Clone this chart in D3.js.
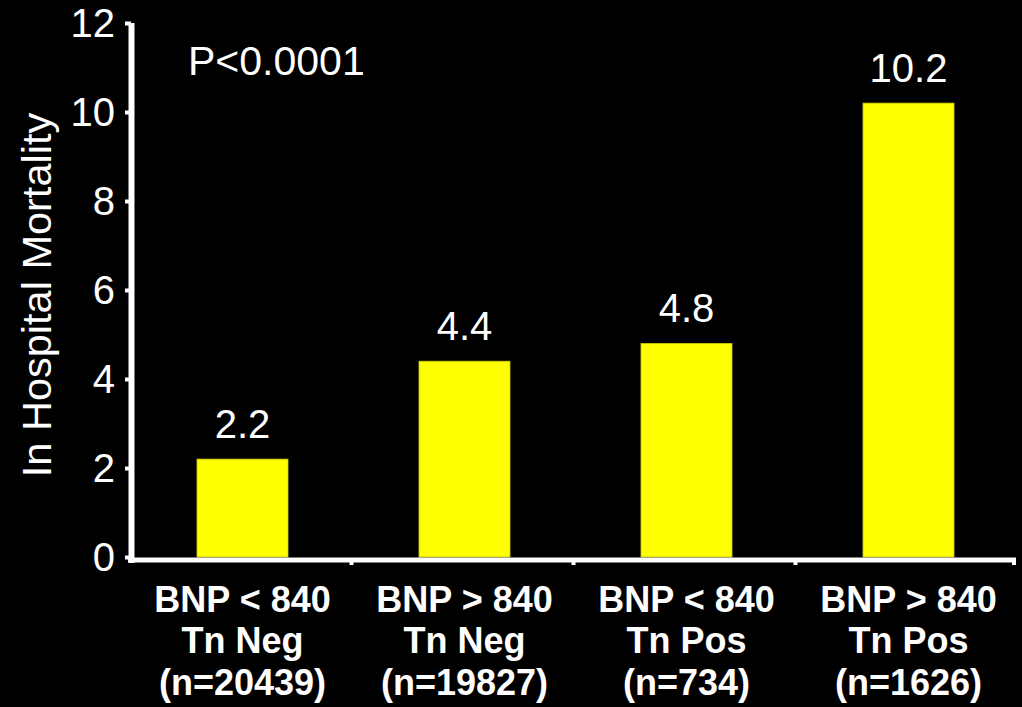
<!DOCTYPE html>
<html>
<head>
<meta charset="utf-8">
<script src="https://cdn.jsdelivr.net/npm/d3@7"></script>
<style>
html,body{margin:0;padding:0;background:#000;}
svg{display:block;}
text{font-family:"Liberation Sans",Arial,Helvetica,sans-serif;fill:#fff;}
</style>
</head>
<body>
<svg id="chart" width="1022" height="707"></svg>
<script>
const categories = ["g1","g2","g3","g4"];
const labelLine1 = ["BNP < 840","BNP > 840","BNP < 840","BNP > 840"];
const labelLine2 = ["Tn Neg","Tn Neg","Tn Pos","Tn Pos"];
const labelLine3 = ["(n=20439)","(n=19827)","(n=734)","(n=1626)"];
const values = [2.2, 4.4, 4.8, 10.2];
const valueLabels = ["2.2","4.4","4.8","10.2"];
const yTicks = [0,2,4,6,8,10,12];
const yTitle = "In Hospital Mortality";
const pText = "P<0.0001";

const svg = d3.select("#chart");
svg.append("rect").attr("width",1022).attr("height",707).attr("fill","#000");

const x = d3.scaleBand().domain(categories).range([131.5, 1019.5]).paddingInner(0.59).paddingOuter(0.295);
const xb = d3.scaleBand().domain(categories).range([131.5, 1019.5]);
const y = d3.scaleLinear().domain([0,12]).range([557, 23]);

// bars
svg.selectAll("rect.bar").data(values).enter().append("rect")
  .attr("class","bar")
  .attr("x",(d,i)=>x(categories[i]))
  .attr("width",x.bandwidth())
  .attr("y",d=>y(d))
  .attr("height",d=>y(0)-y(d))
  .attr("fill","#ffff00")
  .attr("stroke","#c8c800").attr("stroke-width",0.8);

// value labels
svg.selectAll("text.val").data(values).enter().append("text")
  .attr("x",(d,i)=>x(categories[i])+x.bandwidth()/2)
  .attr("y",d=>y(d)-21)
  .attr("text-anchor","middle")
  .attr("font-size",40)
  .text((d,i)=>valueLabels[i]);

// y axis
const yAxis = d3.axisLeft(y).tickValues(yTicks).tickSize(6).tickPadding(10).tickFormat(d3.format("d"));
const gy = svg.append("g").attr("transform","translate(131,0)").call(yAxis);
gy.select(".domain").remove();
gy.selectAll(".tick line").attr("stroke","#fff").attr("stroke-width",4);
gy.selectAll(".tick text").attr("font-size",40).attr("fill","#fff").attr("dy","0.34em")
  .attr("font-family","Liberation Sans, Arial, sans-serif");
svg.append("line").attr("x1",131.5).attr("x2",131.5).attr("y1",y(12)).attr("y2",563)
  .attr("stroke","#fff").attr("stroke-width",6);

// x axis
svg.append("line").attr("x1",128).attr("x2",1016).attr("y1",560).attr("y2",560)
  .attr("stroke","#fff").attr("stroke-width",5);
svg.selectAll("line.xt").data(categories).enter().append("line")
  .attr("x1",(d,i)=>Math.min(1014, xb(d)+xb.step()-2))
  .attr("x2",(d,i)=>Math.min(1014, xb(d)+xb.step()-2))
  .attr("y1",560).attr("y2",565).attr("stroke","#fff").attr("stroke-width",4);

// category labels
const lines = [labelLine1,labelLine2,labelLine3];
const baselines = [612,653,695];
lines.forEach((arr,li)=>{
  svg.selectAll(null).data(arr).enter().append("text")
    .attr("x",(d,i)=>x(categories[i])+x.bandwidth()/2)
    .attr("y",baselines[li])
    .attr("text-anchor","middle")
    .attr("font-size",36).attr("font-weight","bold")
    .text(d=>d);
});

// y title
svg.append("text")
  .attr("transform","translate(51,295) rotate(-90)")
  .attr("text-anchor","middle")
  .attr("font-size",41.5)
  .text(yTitle);

// p value
svg.append("text").attr("x",188).attr("y",75).attr("font-size",41).text(pText);
</script>
</body>
</html>
